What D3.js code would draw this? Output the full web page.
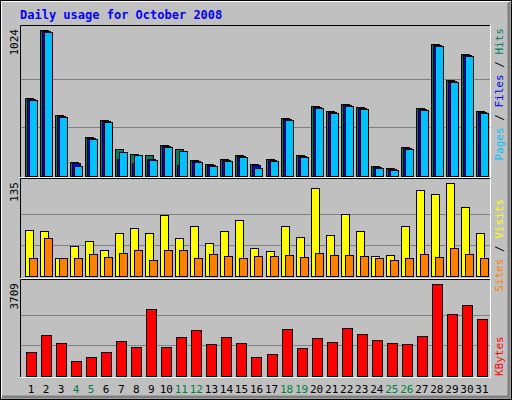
<!DOCTYPE html>
<html><head><meta charset="utf-8">
<script src="https://cdn.jsdelivr.net/npm/d3@7"></script>
<style>body{margin:0;background:#fff}svg text{font-family:"DejaVu Sans Mono",monospace}</style>
</head><body><svg id="chart"></svg>
<script>
// Values
const days = d3.range(1, 32);
const weekend = [4, 5, 11, 12, 18, 19, 25, 26];
const hits   = [550,1024,425,98,272,390,188,153,146,216,188,111,84,118,146,84,118,404,146,488,453,508,481,70,56,202,474,926,676,857,453];
const files  = [540,1017,418,90,265,383,118,90,118,209,80,104,77,111,139,77,111,397,139,481,446,501,474,63,49,195,467,919,669,850,446];
const pages  = [530,1010,411,70,258,376,167,146,111,202,174,97,70,104,132,56,104,390,132,474,439,494,467,56,42,188,460,912,662,843,439];
const sites  = [67,65,26,44,51,38,62,70,62,89,55,73,48,65,81,41,36,73,57,128,60,90,65,29,30,73,125,119,135,100,62];
const visits = [26,55,26,26,32,28,33,38,23,38,38,26,32,29,26,29,29,30,28,33,30,30,29,26,23,26,32,28,41,32,26];
const kbytes = [948,1638,1313,623,785,948,1395,1151,2694,1151,1557,1841,1273,1557,1313,785,907,1882,1110,1516,1354,1922,1679,1435,1313,1273,1598,3709,2491,2857,2288];

const W = 512, H = 400;
const left = 20, right = 490;
const svg = d3.select('#chart').attr('width', W).attr('height', H);

// outer 3D frame
svg.append('rect').attr('x', 0).attr('y', 0).attr('width', W).attr('height', H).attr('fill', '#c0c0c0');
svg.append('rect').attr('x', 0.5).attr('y', 0.5).attr('width', W - 1).attr('height', H - 1).attr('fill', 'none').attr('stroke', '#000');
svg.append('path').attr('d', `M1.5,${H-2}V1.5H${W-2}`).attr('fill', 'none').attr('stroke', '#fff');
svg.append('path').attr('d', `M${W-3},2V${H-3}H2`).attr('fill', 'none').attr('stroke', '#808080').attr('stroke-width', 3);

svg.append('text').attr('x', 20).attr('y', 19).attr('fill', '#0000ff')
    .attr('font-size', 12).attr('font-weight', 'bold').text('Daily usage for October 2008');

const x = d3.scaleBand().domain(days).range([left + 2, right - 2]).paddingInner(0);

// panel: top, bottom pixel, max value
const panels = [
  {top: 25, bottom: 178, base: 176, max: 1024, label: '1024'},
  {top: 178, bottom: 279, base: 276, max: 135, label: '135'},
  {top: 279, bottom: 378, base: 376, max: 3709, label: '3709'}
];

panels.forEach(p => {
  p.y = d3.scaleLinear().domain([0, p.max]).range([p.base, p.top + 5]);
  const g = svg.append('g');
  [1/3, 2/3].forEach(f => {
    const yy = Math.round(p.y(p.max * f)) + 0.5;
    g.append('line').attr('x1', left).attr('x2', right).attr('y1', yy).attr('y2', yy).attr('stroke', '#808080');
  });
  g.append('path').attr('d', `M${left+0.5},${p.bottom}V${p.top+0.5}H${right}`).attr('fill', 'none').attr('stroke', '#000');
  g.append('path').attr('d', `M${right+0.5},${p.top}V${p.bottom-0.5}H${left}`).attr('fill', 'none').attr('stroke', '#fff');
  svg.append('text').attr('transform', `translate(18,${p.top + 4}) rotate(-90)`)
      .attr('text-anchor', 'end').attr('font-size', 11).attr('fill', '#000').text(p.label);
});

function bars(panel, data, dx, w, color) {
  svg.append('g').selectAll('rect').data(data).join('rect')
      .attr('x', (d, i) => Math.round(x(days[i])) + dx + 0.5)
      .attr('y', d => Math.round(panel.y(d)) + 0.5)
      .attr('width', w)
      .attr('height', d => panel.base - Math.round(panel.y(d)))
      .attr('fill', color).attr('stroke', '#000');
}

bars(panels[0], hits, 3, 8, '#00805c');
bars(panels[0], files, 5, 8, '#0000ff');
bars(panels[0], pages, 7, 8, '#00c0ff');
bars(panels[1], sites, 3, 8, '#ffff00');
bars(panels[1], visits, 7, 8, '#ff8000');
bars(panels[2], kbytes, 4, 10, '#ff0000');

// day labels
svg.append('g').selectAll('text').data(days).join('text')
    .attr('x', d => x(d) + x.bandwidth() / 2 + 1.5)
    .attr('y', 393).attr('text-anchor', 'middle').attr('font-size', 11)
    .attr('font-family', 'DejaVu Sans')
    .attr('fill', d => weekend.includes(d) ? '#008040' : '#000')
    .text(d => d);

// right legends (rotated)
function legend(parts, y, anchor) {
  const t = svg.append('text').attr('transform', `translate(503,${y}) rotate(-90)`)
      .attr('text-anchor', anchor).attr('font-size', 11);
  parts.forEach(p => t.append('tspan').attr('fill', p[1]).text(p[0]));
}
legend([['Pages', '#00c0ff'], [' / ', '#000'], ['Files', '#0000ff'], [' / ', '#000'], ['Hits', '#00805c']], 28, 'end');
legend([['Sites', '#ff8000'], [' / ', '#000'], ['Visits', '#ffff00']], 199, 'end');
legend([['KBytes', '#ff0000']], 376, 'start');
</script></body></html>
